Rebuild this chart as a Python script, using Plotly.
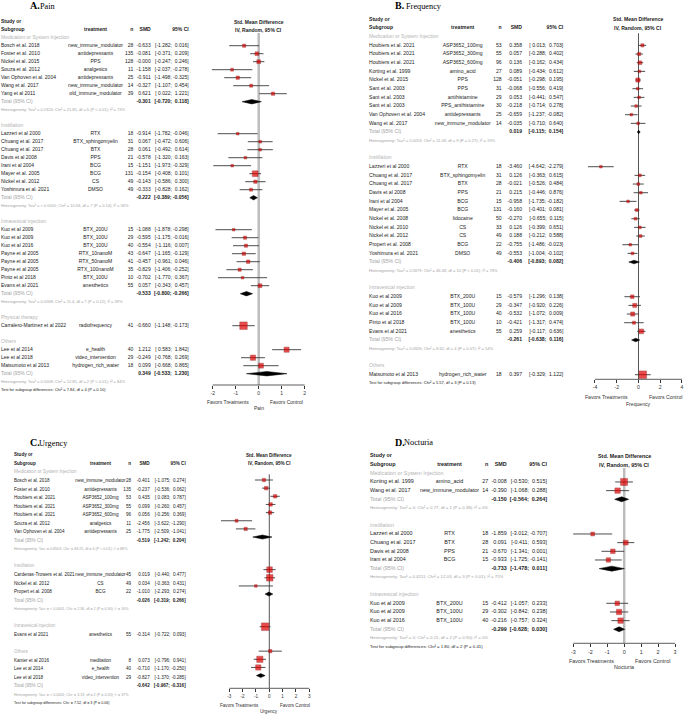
import math
import plotly.graph_objects as go

FIG_W, FIG_H = 685, 715
FONT = "Liberation Sans, Arial, sans-serif"
SERIF = "Liberation Serif, Times New Roman, serif"

# ---------------- Panel A : Pain ----------------
A_groups = ["Medication or System Injection", "Instillation", "Intravesical injection", "Physical therapy", "Others"]
A_group = [0] * 7 + [1] * 8 + [2] * 8 + [3] + [4] * 3
A_study = ["Bosch et al. 2018", "Foster et al. 2010", "Nickel et al. 2015", "Souza et al. 2012",
           "Van Ophoven et al. 2004", "Wang et al. 2017", "Yang et al 2011",
           "Lazzeri et al 2000", "Chuang et al. 2017", "Chuang et al. 2017", "Davis et al 2008",
           "Irani et al 2004", "Mayer et al. 2005", "Nickel et al. 2012", "Yoshimura et al. 2021",
           "Kuo et al 2009", "Kuo et al 2009", "Kuo et al 2016", "Payne et al 2005", "Payne et al 2005",
           "Payne et al 2005", "Pinto et al 2018", "Evans et al 2021",
           "Carralero-Martinez et al 2022",
           "Lee et al 2014", "Lee et al 2018", "Matsumoto et al 2013"]
A_treat = ["new_immune_modulator", "antidepressants", "PPS", "analgesics", "antidepressants",
           "new_immune_modulator", "old_immune_modulator",
           "RTX", "BTX_sphingomyelin", "BTX", "PPS", "BCG", "BCG", "CS", "DMSO",
           "BTX_200U", "BTX_100U", "BTX_100U", "RTX_10nanoM", "RTX_50nanoM", "RTX_100nanoM", "BTX_100U", "anesthetics",
           "radiofrequency",
           "e_health", "video_intervention", "hydrogen_rich_water"]
A_n = [28, 135, 128, 11, 25, 14, 39, 18, 31, 28, 21, 15, 131, 49, 49, 15, 29, 40, 43, 41, 35, 10, 55, 41, 40, 29, 18]
A_smd = [-0.633, -0.081, -0.000, -1.158, -0.911, -0.327, 0.621,
         -0.914, 0.067, 0.061, -0.578, -1.151, -0.154, -0.143, -0.333,
         -1.088, -0.595, -0.554, -0.647, -0.457, -0.829, -0.702, 0.057,
         -0.660, 1.212, -0.249, 0.099]
A_lo = [-1.282, -0.371, -0.247, -2.037, -1.498, -1.107, 0.022,
        -1.782, -0.472, -0.492, -1.320, -1.973, -0.408, -0.586, -0.828,
        -1.878, -1.175, -1.116, -1.165, -0.961, -1.406, -1.770, -0.343,
        -1.148, 0.583, -0.768, -0.668]
A_hi = [0.016, 0.209, 0.246, -0.278, -0.325, 0.454, 1.221,
        -0.046, 0.606, 0.614, 0.163, -0.329, 0.101, 0.300, 0.162,
        -0.298, -0.016, 0.007, -0.129, 0.046, -0.252, 0.367, 0.457,
        -0.173, 1.842, 0.269, 0.865]
A_tot_smd = [-0.301, -0.222, -0.533, None, 0.349]
A_tot_lo = [-0.720, -0.389, -0.800, None, -0.533]
A_tot_hi = [0.118, -0.056, -0.266, None, 1.230]
A_tau2 = ["0.2324", "< 0.0001", "0.0568", None, "0.5008"]
A_chi2 = ["21.85", "10.94", "11.4", None, "12.85"]
A_df = [6, 7, 7, None, 2]
A_p = ["< 0.01", "= 0.14", "= 0.12", None, "< 0.01"]
A_i2 = ["73%", "36%", "39%", None, "84%"]
A_test = ["7.84", 4, "= 0.10"]
A_ticks = [-2, -1, 0, 1, 2]

# ---------------- Panel B : Frequency ----------------
B_groups = ["Medication or System Injection", "Instillation", "Intravesical injection", "Others"]
B_group = [0] * 10 + [1] * 11 + [2] * 5 + [3]
B_study = ["Houbiers et al. 2021", "Houbiers et al. 2021", "Houbiers et al. 2021", "Korting et al. 1999",
           "Nickel et al. 2015", "Sant et al. 2003", "Sant et al. 2003", "Sant et al. 2003",
           "Van Ophoven et al. 2004", "Wang et al. 2017",
           "Lazzeri et al 2000", "Chuang et al. 2017", "Chuang et al. 2017", "Davis et al 2008",
           "Irani et al 2004", "Mayer et al. 2005", "Nickel et al. 2008", "Nickel et al. 2010",
           "Nickel et al. 2012", "Propert et al. 2008", "Yoshimura et al. 2021",
           "Kuo et al 2009", "Kuo et al 2009", "Kuo et al 2016", "Pinto et al 2018", "Evans et al 2021",
           "Matsumoto et al 2013"]
B_treat = ["ASP3652_100mg", "ASP3652_300mg", "ASP3652_600mg", "amino_acid", "PPS", "PPS", "antihistamine",
           "PPS_antihistamine", "antidepressants", "new_immune_modulator",
           "RTX", "BTX_sphingomyelin", "BTX", "PPS", "BCG", "BCG", "lidocaine", "CS", "CS", "BCG", "DMSO",
           "BTX_200U", "BTX_100U", "BTX_100U", "BTX_100U", "anesthetics",
           "hydrogen_rich_water"]
B_n = [53, 55, 96, 27, 128, 31, 29, 30, 25, 14, 18, 31, 28, 21, 15, 131, 50, 33, 49, 22, 49, 15, 29, 40, 10, 55, 18]
B_smd = [0.358, 0.057, 0.136, 0.089, -0.051, -0.068, 0.053, -0.218, -0.659, -0.035,
         -3.460, 0.126, -0.021, 0.215, -0.958, -0.160, -0.270, 0.126, 0.188, -0.755, -0.553,
         -0.579, -0.347, -0.532, -0.421, 0.259,
         0.397]
B_lo = [0.013, -0.288, -0.162, -0.434, -0.298, -0.556, -0.441, -0.714, -1.237, -0.710,
        -4.642, -0.363, -0.526, -0.446, -1.735, -0.401, -0.655, -0.399, -0.212, -1.486, -1.004,
        -1.296, -0.920, -1.072, -1.317, -0.117,
        -0.329]
B_hi = [0.703, 0.402, 0.434, 0.612, 0.195, 0.419, 0.547, 0.278, -0.082, 0.640,
        -2.279, 0.615, 0.484, 0.876, -0.182, 0.081, 0.115, 0.651, 0.588, -0.023, -0.102,
        0.138, 0.226, 0.009, 0.474, 0.636,
        1.122]
B_tot_smd = [0.019, -0.406, -0.261, None]
B_tot_lo = [-0.115, -0.893, -0.638, None]
B_tot_hi = [0.154, 0.082, 0.116, None]
B_tau2 = ["0.0053", "0.5879", "0.0926", None]
B_chi2 = ["11.08", "46.48", "8.62", None]
B_df = [9, 10, 4, None]
B_p = ["= 0.27", "< 0.01", "= 0.07", None]
B_i2 = ["19%", "78%", "54%", None]
B_test = ["5.57", 3, "= 0.13"]
B_ticks = [-4, -2, 0, 2, 4]

# ---------------- Panel C : Urgency ----------------
C_groups = ["Medication or System Injection", "Instillation", "Intravesical injection", "Others"]
C_group = [0] * 7 + [1] * 3 + [2] + [3] * 3
C_study = ["Bosch et al. 2018", "Foster et al. 2010", "Houbiers et al. 2021", "Houbiers et al. 2021",
           "Houbiers et al. 2021", "Souza et al. 2012", "Van Ophoven et al. 2004",
           "Cardenas-Trowers et al. 2021", "Nickel et al. 2012", "Propert et al. 2008",
           "Evans et al 2021",
           "Kanter et al 2016", "Lee et al 2014", "Lee et al 2018"]
C_treat = ["new_immune_modulator", "antidepressants", "ASP3652_100mg", "ASP3652_300mg", "ASP3652_600mg",
           "analgesics", "antidepressants",
           "new_immune_modulator", "CS", "BCG",
           "anesthetics",
           "meditation", "e_health", "video_intervention"]
C_n = [28, 135, 53, 55, 96, 11, 25, 45, 49, 22, 55, 8, 40, 29]
C_smd = [-0.401, -0.237, 0.435, 0.099, 0.056, -2.456, -1.775, 0.019, 0.034, -1.010, -0.314, 0.073, -0.710, -0.827]
C_lo = [-1.075, -0.536, 0.083, -0.260, -0.256, -3.622, -2.509, -0.440, -0.363, -2.293, -0.722, -0.796, -1.170, -1.370]
C_hi = [0.274, 0.062, 0.787, 0.457, 0.369, -1.290, -1.041, 0.477, 0.431, 0.274, 0.093, 0.941, -0.250, -0.285]
C_tot_smd = [-0.519, -0.026, None, -0.642]
C_tot_lo = [-1.242, -0.319, None, -0.967]
C_tot_hi = [0.204, 0.266, None, -0.316]
C_tau2 = ["0.8503", "< 0.0001", None, "< 0.0001"]
C_chi2 = ["48.25", "2.36", None, "3.19"]
C_df = [6, 2, None, 2]
C_p = ["< 0.01", "= 0.30", None, "= 0.20"]
C_i2 = ["88%", "16%", None, "37%"]
C_test = ["7.52", 3, "= 0.06"]
C_ticks = [-3, -2, -1, 0, 1, 2, 3]

# ---------------- Panel D : Nocturia ----------------
D_groups = ["Medication or System Injection", "Instillation", "Intravesical injection"]
D_group = [0] * 2 + [1] * 4 + [2] * 3
D_study = ["Korting et al. 1999", "Wang et al. 2017", "Lazzeri et al 2000", "Chuang et al. 2017",
           "Davis et al 2008", "Irani et al 2004", "Kuo et al 2009", "Kuo et al 2009", "Kuo et al 2016"]
D_treat = ["amino_acid", "new_immune_modulator", "RTX", "BTX", "PPS", "BCG", "BTX_200U", "BTX_100U", "BTX_100U"]
D_n = [27, 14, 18, 28, 21, 15, 15, 29, 40]
D_smd = [-0.008, -0.390, -1.859, 0.091, -0.670, -0.933, -0.412, -0.302, -0.216]
D_lo = [-0.530, -1.068, -3.012, -0.411, -1.341, -1.725, -1.057, -0.842, -0.757]
D_hi = [0.515, 0.288, -0.707, 0.593, 0.001, -0.141, 0.233, 0.238, 0.324]
D_tot_smd = [-0.150, -0.733, -0.299]
D_tot_lo = [-0.564, -1.478, -0.628]
D_tot_hi = [0.264, 0.011, 0.030]
D_tau2 = ["0", "0.4211", "0"]
D_chi2 = ["0.77", "12.03", "0.21"]
D_df = [1, 3, 2]
D_p = ["= 0.38", "< 0.01", "= 0.90"]
D_i2 = ["0%", "75%", "0%"]
D_test = ["1.80", 2, "= 0.41"]
D_ticks = [-3, -2, -1, 0, 1, 2, 3]

# ---------------- layout settings per panel (pixels) ----------------
PANELS = [
    dict(data=(A_groups, A_group, A_study, A_treat, A_n, A_smd, A_lo, A_hi, A_tot_smd, A_tot_lo, A_tot_hi,
               A_tau2, A_chi2, A_df, A_p, A_i2, A_test, A_ticks),
         letter="A.", word="Pain", outcome="Pain",
         y0=37.7, dy=8.0, fy0=37.7, fdy=8.0, zero=258.7, unit=23.0, rng=(-2.5, 2.5), axis=385.0,
         fs=5.0, cols=(1.0, 95.5, 133.3, 150.7, 188.7), zl=("#bdbdbd", 2.5), zl_top=-0.6,
         letter_xy=(28.3, 5.5), word_x=38.0, fav_dy=16.7, out_dy=22.7, dia_h=2.2),
    dict(data=(B_groups, B_group, B_study, B_treat, B_n, B_smd, B_lo, B_hi, B_tot_smd, B_tot_lo, B_tot_hi,
               B_tau2, B_chi2, B_df, B_p, B_i2, B_test, B_ticks),
         letter="B.", word="Frequency", outcome="Frequency",
         y0=36.7, dy=8.667, fy0=36.7, fdy=8.667, zero=638.5, unit=10.875, rng=(-5.0, 4.2), axis=379.3,
         fs=5.1, cols=(369.0, 462.7, 501.7, 522.0, 563.3), zl=("#555555", 1.0), zl_top=-0.4,
         letter_xy=(393.3, 5.5), word_x=404.0, fav_dy=18.0, out_dy=24.7, dia_h=1.8),
    dict(data=(C_groups, C_group, C_study, C_treat, C_n, C_smd, C_lo, C_hi, C_tot_smd, C_tot_lo, C_tot_hi,
               C_tau2, C_chi2, C_df, C_p, C_i2, C_test, C_ticks),
         letter="C.", word="Urgency", outcome="Urgency",
         y0=472.3, dy=8.55, fy0=471.85, fdy=8.15, zero=269.3, unit=13.33, rng=(-4.0, 4.0), axis=688.3,
         fs=4.6, cols=(14.0, 100.5, 131.0, 149.7, 185.7), zl=("#555555", 1.0), zl_top=0.3,
         letter_xy=(28.3, 442.7), word_x=36.5, fav_dy=17.4, out_dy=23.4, dia_h=2.0),
    dict(data=(D_groups, D_group, D_study, D_treat, D_n, D_smd, D_lo, D_hi, D_tot_smd, D_tot_lo, D_tot_hi,
               D_tau2, D_chi2, D_df, D_p, D_i2, D_test, D_ticks),
         letter="D.", word="Nocturia", outcome="Nocturia",
         y0=473.3, dy=8.667, fy0=473.3, fdy=8.667, zero=624.2, unit=16.95, rng=(-3.5, 3.5), axis=643.3,
         fs=5.4, cols=(370.0, 449.5, 488.3, 506.7, 547.0), zl=("#bdbdbd", 2.5), zl_top=-0.6,
         letter_xy=(393.3, 442.0), word_x=402.0, fav_dy=17.4, out_dy=24.0, dia_h=2.5),
]

BLACK = "#1a1a1a"
HDR_GRAY = "#b3b3b3"
TOT_GRAY = "#a3a3a3"
RED = "#e00000"
NB = "\u00a0"


def f3(v):
    return f"{v:.3f}"


def pad(v):
    s = f"{v:.3f}"
    return s if s.startswith("-") else NB + s


def ci_str(lo, hi):
    return "[" + pad(lo) + "; " + pad(hi) + "]"


def tau_num(s):
    if s is None:
        return 0.0
    return float(s.replace("<", "").strip())


def py(px):  # pixel (from top) -> paper
    return 1 - px / FIG_H


fig = go.Figure()
layout = dict(width=FIG_W, height=FIG_H, autosize=False, margin=dict(l=0, r=0, t=0, b=0, pad=0),
              paper_bgcolor="white", plot_bgcolor="rgba(0,0,0,0)", showlegend=False,
              xaxis5=dict(domain=[0, 1], range=[0, FIG_W], visible=False, anchor="y5", fixedrange=True))
shapes = []
annotations = []

for k, P in enumerate(PANELS, start=1):
    (groups, group, study, treat, n, smd, lo, hi, tsmd, tlo, thi,
     tau2, chi2, df, pval, i2, test, ticks) = P["data"]
    xf = "x" if k == 1 else f"x{k}"
    yf = "y" if k == 1 else f"y{k}"
    xf_key = "xaxis" if k == 1 else f"xaxis{k}"
    yf_key = "yaxis" if k == 1 else f"yaxis{k}"
    ty = f"y{k + 4}"
    ty_key = f"yaxis{k + 4}"
    fs = P["fs"]
    c_name, c_treat, c_n, c_smd, c_ci = P["cols"]

    y0, dy = P["y0"], P["dy"]
    layout[ty_key] = dict(domain=[0, 1], range=[(FIG_H - y0) / dy, -y0 / dy], visible=False,
                          anchor="x5", fixedrange=True)
    fy0, fdy, axis_px = P["fy0"], P["fdy"], P["axis"]
    layout[yf_key] = dict(domain=[py(axis_px), 1], range=[(axis_px - fy0) / fdy, -fy0 / fdy],
                          visible=False, anchor=xf, fixedrange=True)
    r0, r1 = P["rng"]
    zero, unit = P["zero"], P["unit"]
    layout[xf_key] = dict(domain=[(zero + r0 * unit) / FIG_W, (zero + r1 * unit) / FIG_W], range=[r0, r1],
                          anchor=yf, showgrid=False, zeroline=False, showline=False,
                          ticks="outside", ticklen=3, tickwidth=0.8, tickcolor="#333",
                          tickvals=ticks, ticktext=[str(t) for t in ticks],
                          tickfont=dict(family=FONT, size=fs, color="#333"), fixedrange=True)

    tx, tyv, tt, tpos, tcol, tsize = [], [], [], [], [], []

    def add(row, x, text, align, color=BLACK, size=fs):
        tx.append(x)
        tyv.append(row)
        tt.append(text)
        tpos.append({"left": "middle right", "right": "middle left", "center": "middle center"}[align])
        tcol.append(color)
        tsize.append(size)

    add(-2, c_name, "<b>Study or</b>", "left")
    add(-1, c_name, "<b>Subgroup</b>", "left")
    add(-1, c_treat, "<b>treatment</b>", "center")
    add(-1, c_n, "<b>n</b>", "right")
    add(-1, c_smd, "<b>SMD</b>", "right")
    add(-1, c_ci, "<b>95% CI</b>", "right")

    st_rows, st_idx, dia = [], [], []
    row = 0
    for g, gname in enumerate(groups):
        add(row, c_name, gname, "left", HDR_GRAY)
        row += 1
        for i in range(len(study)):
            if group[i] != g:
                continue
            add(row, c_name, study[i], "left")
            add(row, c_treat, treat[i], "center")
            add(row, c_n, str(n[i]), "right")
            add(row, c_smd, f3(smd[i]), "right")
            add(row, c_ci, ci_str(lo[i], hi[i]), "right")
            st_rows.append(row)
            st_idx.append(i)
            row += 1
        if tsmd[g] is not None:
            add(row, c_name, "Total (95% CI)", "left", TOT_GRAY)
            add(row, c_smd, "<b>" + f3(tsmd[g]) + "</b>", "right")
            add(row, c_ci, "<b>" + ci_str(tlo[g], thi[g]) + "</b>", "right")
            dia.append((g, row))
            row += 1
            het = (f"Heterogeneity: Tau² = {tau2[g]}; Chi² = {chi2[g]}, df = {df[g]} "
                   f"(P {pval[g]}); I² = {i2[g]}")
            add(row, c_name, het, "left", TOT_GRAY, fs * 0.8)
            row += 1
        if g < len(groups) - 1:
            row += 1
    add(row, c_name, f"Test for subgroup differences: Chi² = {test[0]}, df = {test[1]} (P {test[2]})",
        "left", BLACK, fs * 0.8)

    fig.add_trace(go.Scatter(x=tx, y=tyv, text=tt, mode="text", textposition=tpos,
                             textfont=dict(family=FONT, size=tsize, color=tcol),
                             xaxis="x5", yaxis=ty, hoverinfo="skip", cliponaxis=False))

    w = []
    for i in st_idx:
        se = (hi[i] - lo[i]) / 3.92
        w.append(1.0 / (se * se + tau_num(tau2[group[i]])))
    gsum = {}
    for j, i in enumerate(st_idx):
        gsum[group[i]] = gsum.get(group[i], 0) + w[j]
    sizes = [max(2.6, min(7.5, 8.8 * math.sqrt(w[j] / gsum[group[i]]))) for j, i in enumerate(st_idx)]

    col, wid = P["zl"]
    shapes.append(dict(type="line", xref=xf, yref=yf, x0=0, x1=0, y0=P["zl_top"],
                       y1=(axis_px - fy0) / fdy, line=dict(color=col, width=wid), layer="below"))
    shapes.append(dict(type="line", xref=xf, yref=yf + " domain", x0=ticks[0], x1=ticks[-1], y0=0, y1=0,
                       line=dict(color="#333", width=0.8)))

    lx, ly = [], []
    for j, i in enumerate(st_idx):
        lx += [lo[i], hi[i], None]
        ly += [st_rows[j], st_rows[j], None]
    fig.add_trace(go.Scatter(x=lx, y=ly, mode="lines", line=dict(color="#3a3a3a", width=0.9),
                             xaxis=xf, yaxis=yf, hoverinfo="skip", cliponaxis=False))
    fig.add_trace(go.Scatter(x=[smd[i] for i in st_idx], y=st_rows, mode="markers",
                             marker=dict(symbol="square", size=sizes, color=RED,
                                         line=dict(color="#8b0000", width=0.5)),
                             xaxis=xf, yaxis=yf, hoverinfo="skip", cliponaxis=False))
    h = P["dia_h"] / fdy
    for g, rr in dia:
        fig.add_trace(go.Scatter(x=[tlo[g], tsmd[g], thi[g], tsmd[g], tlo[g]],
                                 y=[rr, rr - h, rr, rr + h, rr], mode="lines", fill="toself",
                                 fillcolor="black", line=dict(color="black", width=0.5),
                                 xaxis=xf, yaxis=yf, hoverinfo="skip", cliponaxis=False))

    for rr, txt in [(-2, "<b>Std. Mean Difference</b>"), (-1, "<b>IV, Random, 95% CI</b>")]:
        annotations.append(dict(xref=xf, yref=ty, x=0, y=rr, text=txt, showarrow=False,
                                xanchor="center", yanchor="middle",
                                font=dict(family=FONT, size=fs, color=BLACK)))
    annotations.append(dict(xref=xf, yref="paper", x=0, y=py(axis_px + P["fav_dy"]), text="Favors Treatments",
                            showarrow=False, xanchor="right", yanchor="middle", xshift=-8,
                            font=dict(family=FONT, size=fs, color="#333")))
    annotations.append(dict(xref=xf, yref="paper", x=0, y=py(axis_px + P["fav_dy"]), text="Favors Control",
                            showarrow=False, xanchor="left", yanchor="middle", xshift=9,
                            font=dict(family=FONT, size=fs, color="#333")))
    annotations.append(dict(xref=xf, yref="paper", x=0, y=py(axis_px + P["out_dy"]), text=P["outcome"],
                            showarrow=False, xanchor="center", yanchor="middle",
                            font=dict(family=FONT, size=fs, color="#333")))
    lxp, lyp = P["letter_xy"]
    annotations.append(dict(xref="paper", yref="paper", x=lxp / FIG_W, y=py(lyp), text="<b>" + P["letter"] + "</b>",
                            showarrow=False, xanchor="left", yanchor="middle",
                            font=dict(family=SERIF, size=10, color="black")))
    annotations.append(dict(xref="paper", yref="paper", x=P["word_x"] / FIG_W, y=py(lyp + 0.6), text=P["word"],
                            showarrow=False, xanchor="left", yanchor="middle",
                            font=dict(family=SERIF, size=8.3, color="black")))

layout["shapes"] = shapes
layout["annotations"] = annotations
fig.update_layout(**layout)
fig.update_traces(showlegend=False)
fig.write_html("out.html")
